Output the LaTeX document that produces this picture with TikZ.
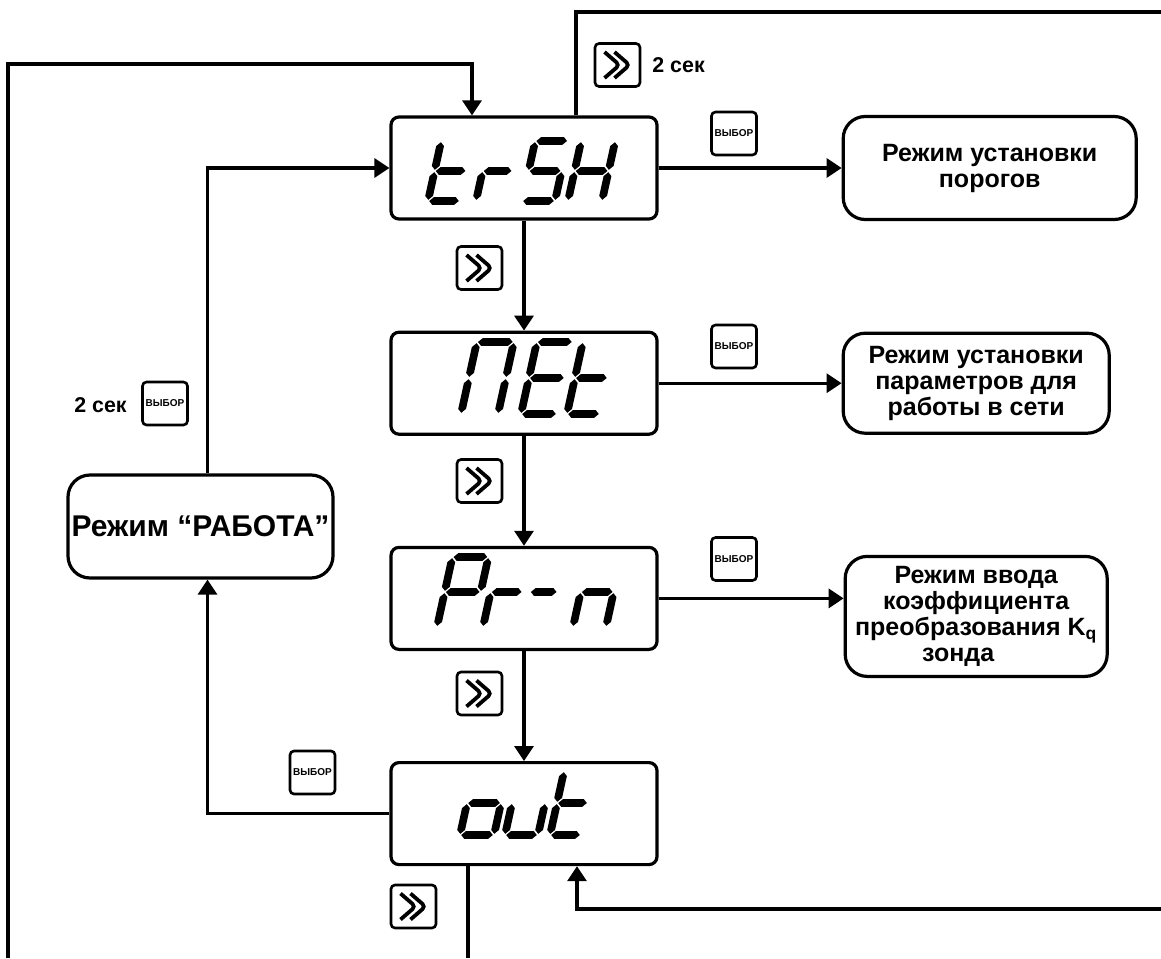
\documentclass[tikz,border=0pt]{standalone}
\usepackage{fontspec}
\setmainfont{Liberation Sans}
\usetikzlibrary{arrows.meta,positioning}
\tikzset{
  display/.style={rectangle, rounded corners=4pt, draw, line width=1.6pt,
    minimum width=133pt, minimum height=51pt, inner sep=0pt},
  modebox/.style={rectangle, rounded corners=11pt, draw, line width=1.6pt,
    align=center, inner sep=2pt, font=\fontsize{12.5}{13}\selectfont\bfseries},
  keybox/.style={rectangle, rounded corners=2pt, draw, line width=1.3pt,
    minimum width=22.5pt, minimum height=21.5pt, inner sep=0pt},
  selkey/.style={keybox, font=\fontsize{5}{5}\selectfont\bfseries},
  nextkey/.style={keybox, path picture={
    \draw[line width=1.9pt] ([shift={(-6.5pt,6.5pt)}]path picture bounding box.center)
      -- ++(7.5pt,-6.5pt) -- ++(-7.5pt,-6.5pt);
    \draw[line width=1.9pt] ([shift={(-1.5pt,6.5pt)}]path picture bounding box.center)
      -- ++(7.5pt,-6.5pt) -- ++(-7.5pt,-6.5pt);}},
  seclabel/.style={font=\fontsize{10.7}{12}\selectfont\bfseries, inner sep=0pt},
  flowline/.style={line width=1.6pt},
  flowarrow/.style={flowline, -{Triangle[length=7.5pt,width=9.5pt]}},
}
% seven-segment glyphs
\newcommand\hseg[3]{\fill ({#1},{#3}) -- ({#1+3.9},{#3-3.9}) -- ({#2-3.9},{#3-3.9})
  -- ({#2},{#3}) -- ({#2-3.9},{#3+3.9}) -- ({#1+3.9},{#3+3.9}) -- cycle;}
\newcommand\vseg[3]{\fill ({#1},{#2}) -- ({#1+3.9},{#2+3.9}) -- ({#1+3.9},{#3-3.9})
  -- ({#1},{#3}) -- ({#1-3.9},{#3-3.9}) -- ({#1-3.9},{#2+3.9}) -- cycle;}
\newcommand\lcda{\hseg{1.2}{\cw-1.2}{-\ch}}
\newcommand\lcdb{\vseg{\cw}{-\ch+1.2}{-\ch/2-1.2}}
\newcommand\lcdc{\vseg{\cw}{-\ch/2+1.2}{-1.2}}
\newcommand\lcdd{\hseg{1.2}{\cw-1.2}{0}}
\newcommand\lcde{\vseg{0}{-\ch/2+1.2}{-1.2}}
\newcommand\lcdf{\vseg{0}{-\ch+1.2}{-\ch/2-1.2}}
\newcommand\lcdg{\hseg{1.2}{\cw-1.2}{-\ch/2}}
\newcommand\lcdchar[5]{%
  \begin{scope}[shift={(#1,#2)}, xslant=0.22]
    \def\cw{#3}\def\ch{#4}%
    \foreach \sg in {#5}{\csname lcd\sg\endcsname}
  \end{scope}}

\begin{document}
\begin{tikzpicture}[x=0.5pt, y=-0.5pt]
\useasboundingbox[fill=white] (0,0) rectangle (1161,958);

\node[display] (trsh) at (524,168) {};
\node[display, below=55pt of trsh] (net) {};
\node[display, below=55pt of net] (prn) {};
\node[display, below=55pt of prn] (out) {};

\node[modebox, right=91.5pt of trsh, minimum width=146.5pt, minimum height=51.5pt] (thr)
  {Режим установки\\порогов};
\node[modebox, right=91.5pt of net, minimum width=133pt, minimum height=50pt] (netmode)
  {Режим установки\\параметров для\\работы в сети};
\node[modebox, right=92.5pt of prn, yshift=-9pt, minimum width=131pt, minimum height=60pt] (kqmode)
  {Режим ввода\\коэффициента\\преобразования K\textsubscript{q}\\зонда\hspace*{18pt}};
\node[modebox, font=\fontsize{15}{16}\selectfont\bfseries, minimum width=132.5pt,
  minimum height=51.5pt, inner sep=1pt] (work) at (200.5,526.5) {Режим “РАБОТА”};

\lcdchar{428}{201}{32}{60}{d,e,f,g}
\lcdchar{476}{201}{30}{60}{e,g}
\lcdchar{522}{201}{33}{60}{a,f,g,c,d}
\lcdchar{568}{201}{34}{60}{b,c,e,f,g}
\lcdchar{461}{414}{37}{72}{a,b,c,e,f}
\lcdchar{521}{414}{36}{72}{a,d,e,f,g}
\lcdchar{567}{414}{33}{72}{d,e,f,g}
\lcdchar{437}{627}{36}{70}{a,b,e,f,g}
\lcdchar{483}{627}{32}{70}{e,g}
\lcdchar{522}{627}{28}{70}{g}
\lcdchar{573}{627}{33}{70}{c,e,g}
\lcdchar{460}{835}{34}{64}{c,d,e,g}
\lcdchar{505}{835}{33}{64}{c,d,e}
\lcdchar{550}{835}{31}{64}{d,e,f,g}

\node[nextkey] (nxt0) at (617.5,65) {};
\node[seclabel, anchor=west] (sec0) at (652,65) {2 сек};
\node[nextkey] (nxt1) at (479.5,268) {};
\node[nextkey] (nxt2) at (479.5,481) {};
\node[nextkey] (nxt3) at (479.5,693.5) {};
\node[nextkey] (nxt4) at (413.5,906.5) {};
\node[selkey] (sel1) at (734,133.5) {ВЫБОР};
\node[selkey] (sel2) at (734,346.5) {ВЫБОР};
\node[selkey] (sel3) at (734,559) {ВЫБОР};
\node[selkey] (sel4) at (312.5,772.5) {ВЫБОР};
\node[selkey] (sel0) at (165,403.5) {ВЫБОР};
\node[seclabel] (sec1) at (100.5,405) {2 сек};

\coordinate (loopin) at (8,958);
\coordinate (loopturn) at (8,64);
\coordinate (topexit) at (1161,12);
\coordinate (outexit) at (468,958);
\coordinate (retin) at (1161,909);

\draw[flowarrow] (loopin) -- (loopturn) -| ([xshift=-26pt]trsh.north);
\draw[flowline] ([xshift=26pt]trsh.north) |- (topexit);
\draw[flowarrow] (trsh) -- (net);
\draw[flowarrow] (net) -- (prn);
\draw[flowarrow] (prn) -- (out);
\draw[flowarrow] (trsh) -- (thr);
\draw[flowarrow] (net) -- (netmode);
\draw[flowarrow] (prn.east) -- (prn.east -| kqmode.west);
\draw[flowarrow] ([xshift=3.5pt]work.north) |- (trsh.west);
\draw[flowarrow] (out.west) -| ([xshift=3.5pt]work.south);
\draw[flowline] ([xshift=-28pt]out.south) -- (outexit);
\draw[flowarrow] (retin) -| ([xshift=26.5pt]out.south);
\end{tikzpicture}
\end{document}
